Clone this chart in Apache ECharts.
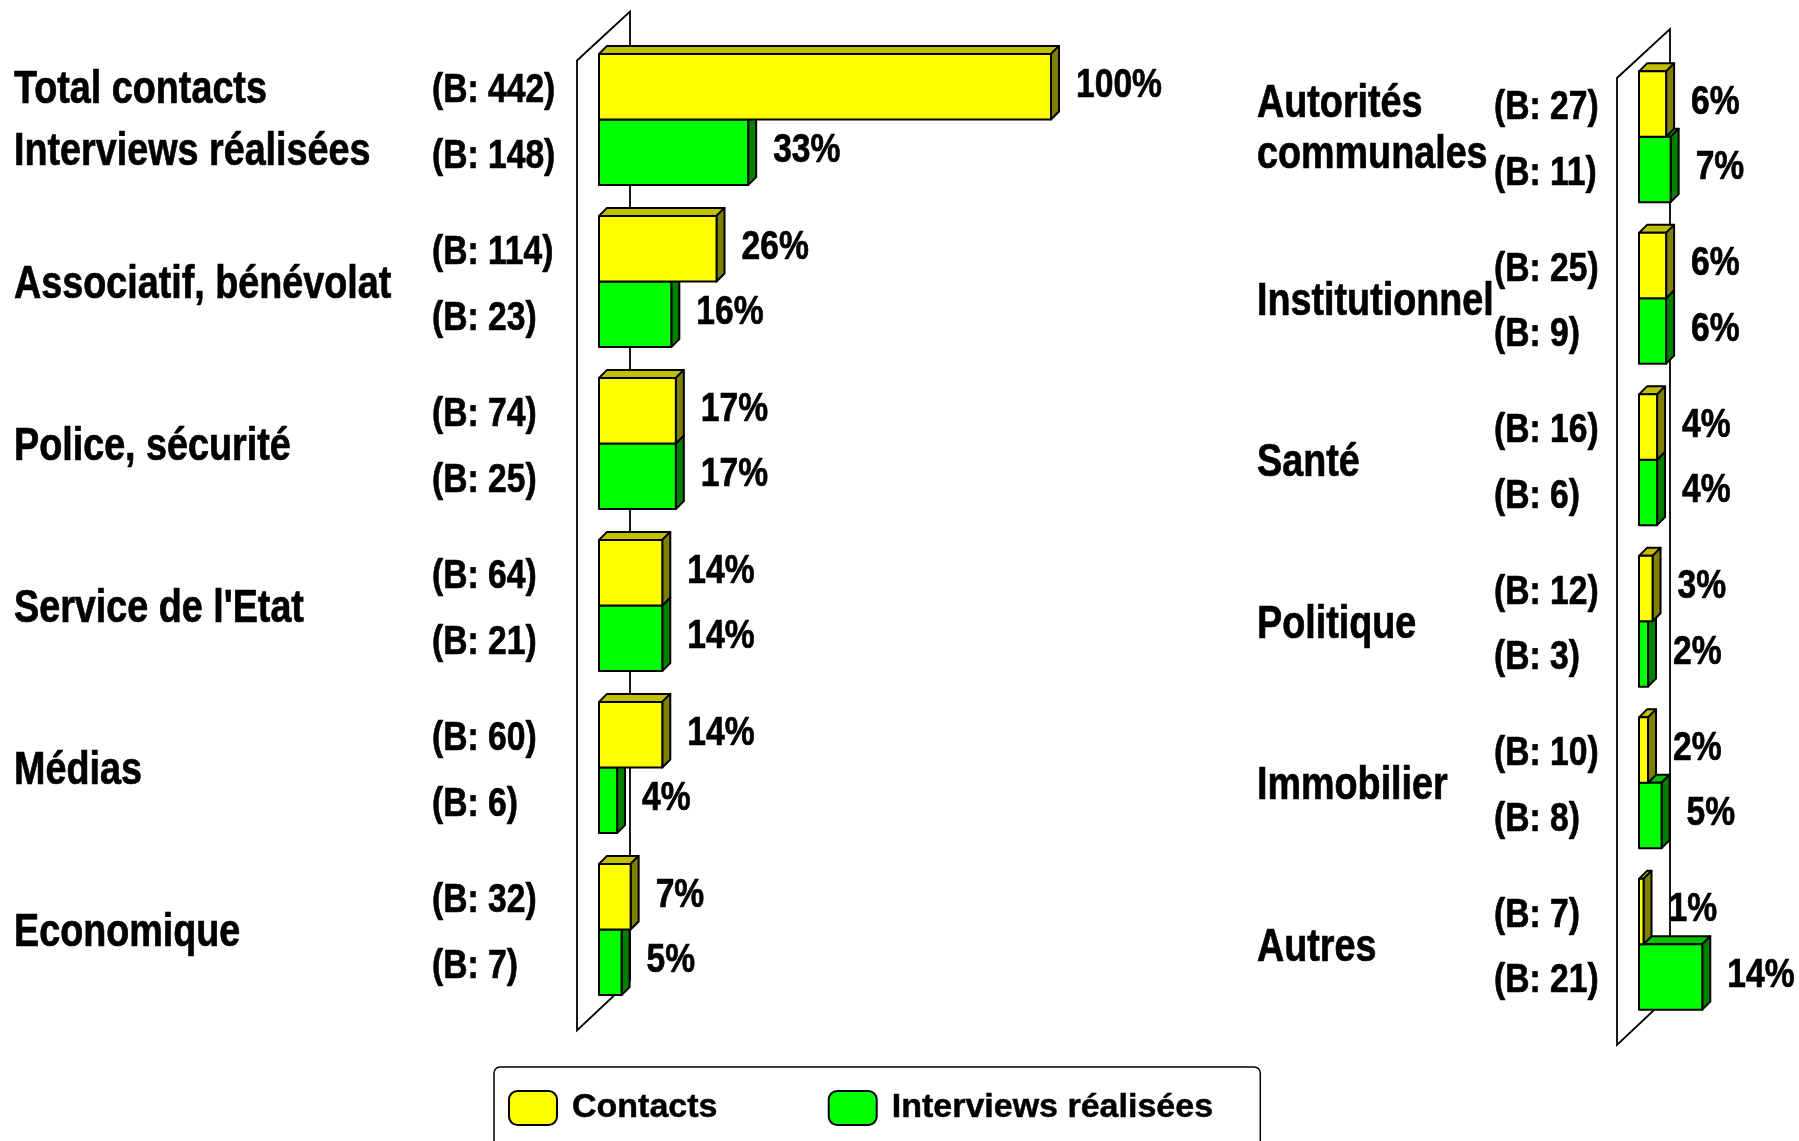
<!DOCTYPE html>
<html><head><meta charset="utf-8">
<script src="https://cdn.jsdelivr.net/npm/echarts@6/dist/echarts.min.js"></script>
<style>html,body{margin:0;padding:0;background:#fff}#c{width:1799px;height:1141px}</style>
</head><body><div id="c"></div>
<script>
const leftCategories = ['Total contacts\nInterviews réalisées', 'Associatif, bénévolat', 'Police, sécurité', "Service de l'Etat", 'Médias', 'Economique'];
const leftContacts = [100, 26, 17, 14, 14, 7];
const leftInterviews = [33, 16, 17, 14, 4, 5];
const leftContactsB = [442, 114, 74, 64, 60, 32];
const leftInterviewsB = [148, 23, 25, 21, 6, 7];

const rightCategories = ['Autorités\ncommunales', 'Institutionnel', 'Santé', 'Politique', 'Immobilier', 'Autres'];
const rightContacts = [6, 6, 4, 3, 2, 1];
const rightInterviews = [7, 6, 4, 2, 5, 14];
const rightContactsB = [27, 25, 16, 12, 10, 7];
const rightInterviewsB = [11, 9, 6, 3, 8, 21];

const seriesNames = ['Contacts', 'Interviews réalisées'];

const FF = "'Liberation Sans', Arial, sans-serif";
const SX = 0.82;   // condensed look
const D = 8;       // 3D depth

function buildData(vals, bs) { return vals.map((v, i) => [v, i, bs[i]]); }

function txt(x, y, s, size) {
  return { type: 'text', x: x, y: y, scaleX: SX, scaleY: 1,
    style: { text: s, fill: '#000', fontFamily: FF, fontWeight: 'bold', fontSize: size, verticalAlign: 'middle', align: 'left',
      stroke: '#000', lineWidth: 0.7 } };
}

// cfg: {isContacts, bOffset, cats, catOffset, twoLine:[dy1, dy2]}
function makeRender(cfg) {
  return function (params, api) {
    const v = api.value(0), ci = api.value(1), b = api.value(2);
    const c0 = api.coord([0, ci]);
    const c1 = api.coord([v, ci]);
    const band = api.size([0, 1])[1];
    const h = band * 0.405;
    const x0 = c0[0], x1 = c1[0];
    const yTop = cfg.isContacts ? c0[1] - h : c0[1];
    const yBot = yTop + h;
    const face = cfg.isContacts ? '#FFFF00' : '#00FF00';
    const top = cfg.isContacts ? '#C0C000' : '#00C000';
    const side = cfg.isContacts ? '#808000' : '#008000';
    const ls = { stroke: '#000', lineWidth: 2, lineJoin: 'round' };
    const children = [
      { type: 'polygon', shape: { points: [[x0, yTop], [x0 + D, yTop - D], [x1 + D, yTop - D], [x1, yTop]] }, style: Object.assign({ fill: top }, ls) },
      { type: 'polygon', shape: { points: [[x1, yTop], [x1 + D, yTop - D], [x1 + D, yBot - D], [x1, yBot]] }, style: Object.assign({ fill: side }, ls) },
      { type: 'rect', shape: { x: x0, y: yTop, width: x1 - x0, height: h }, style: Object.assign({ fill: face }, ls) },
      txt(x1 + 25, yTop + h / 2 - 1.5, v + '%', 41),
      txt(x0 - cfg.bOffset, yTop + h / 2 + 4, '(B: ' + b + ')', 41)
    ];
    if (cfg.isContacts) {
      const name = cfg.cats[ci];
      const lines = name.split('\n');
      const cy = c0[1] + 4;
      if (lines.length === 1) {
        children.push(txt(x0 - cfg.catOffset, cy, name, 46));
      } else {
        children.push(txt(x0 - cfg.catOffset, cy + cfg.twoLine[0], lines[0], 46));
        children.push(txt(x0 - cfg.catOffset, cy + cfg.twoLine[1], lines[1], 46));
      }
    }
    return { type: 'group', children: children };
  };
}

function wallRender(params, api) {
  const cs = params.coordSys;
  const L = cs.x, T = cs.y, B = cs.y + cs.height;
  return { type: 'polygon', shape: { points: [[L - 22, T + 22], [L + 31, T - 27], [L + 31, B - 30], [L - 22, B + 20]] },
    style: { fill: '#fff', stroke: '#000', lineWidth: 1.8 } };
}

const hiddenAxis = { axisLine: { show: false }, axisTick: { show: false }, splitLine: { show: false }, axisLabel: { show: false } };

const option = {
  animation: false,
  backgroundColor: '#fff',
  textStyle: { fontFamily: FF },
  grid: [
    { left: 599, top: 38.5, width: 452, height: 972 },
    { left: 1639, top: 56, width: 135.6, height: 969 }
  ],
  xAxis: [
    { gridIndex: 0, type: 'value', min: 0, max: 100, show: false },
    { gridIndex: 1, type: 'value', min: 0, max: 30, show: false }
  ],
  yAxis: [
    Object.assign({ gridIndex: 0, type: 'category', inverse: true, data: leftCategories }, hiddenAxis),
    Object.assign({ gridIndex: 1, type: 'category', inverse: true, data: rightCategories }, hiddenAxis)
  ],
  legend: {
    data: seriesNames,
    left: 494, top: 1067,
    orient: 'horizontal',
    padding: [23, 47, 40, 14],
    itemGap: 110,
    itemWidth: 48, itemHeight: 34,
    icon: 'roundRect',
    borderColor: '#000', borderWidth: 1.5, borderRadius: 6,
    textStyle: { fontFamily: FF, fontWeight: 'bold', fontSize: 34, color: '#000', padding: [0, 0, 0, 10],
      textBorderColor: '#000', textBorderWidth: 0.5 },
    selectedMode: false
  },
  series: [
    { type: 'custom', name: 'wallL', xAxisIndex: 0, yAxisIndex: 0, data: [[0, 0]], renderItem: wallRender, silent: true },
    { type: 'custom', name: 'wallR', xAxisIndex: 1, yAxisIndex: 1, data: [[0, 0]], renderItem: wallRender, silent: true },
    { type: 'custom', name: seriesNames[1], xAxisIndex: 0, yAxisIndex: 0, data: buildData(leftInterviews, leftInterviewsB),
      encode: { x: 0, y: 1 }, renderItem: makeRender({ isContacts: false, bOffset: 167 }),
      itemStyle: { color: '#00FF00', borderColor: '#000', borderWidth: 1 } },
    { type: 'custom', name: seriesNames[1], xAxisIndex: 1, yAxisIndex: 1, data: buildData(rightInterviews, rightInterviewsB),
      encode: { x: 0, y: 1 }, renderItem: makeRender({ isContacts: false, bOffset: 145 }),
      itemStyle: { color: '#00FF00', borderColor: '#000', borderWidth: 1 } },
    { type: 'custom', name: seriesNames[0], xAxisIndex: 0, yAxisIndex: 0, data: buildData(leftContacts, leftContactsB),
      encode: { x: 0, y: 1 }, renderItem: makeRender({ isContacts: true, bOffset: 167, cats: leftCategories, catOffset: 585, twoLine: [-33, 29] }),
      itemStyle: { color: '#FFFF00', borderColor: '#000', borderWidth: 1 } },
    { type: 'custom', name: seriesNames[0], xAxisIndex: 1, yAxisIndex: 1, data: buildData(rightContacts, rightContactsB),
      encode: { x: 0, y: 1 }, renderItem: makeRender({ isContacts: true, bOffset: 145, cats: rightCategories, catOffset: 382, twoLine: [-36, 15] }),
      itemStyle: { color: '#FFFF00', borderColor: '#000', borderWidth: 1 } }
  ]
};

const chart = echarts.init(document.getElementById('c'), null, { renderer: 'canvas' });
chart.setOption(option);
</script>
</body></html>
